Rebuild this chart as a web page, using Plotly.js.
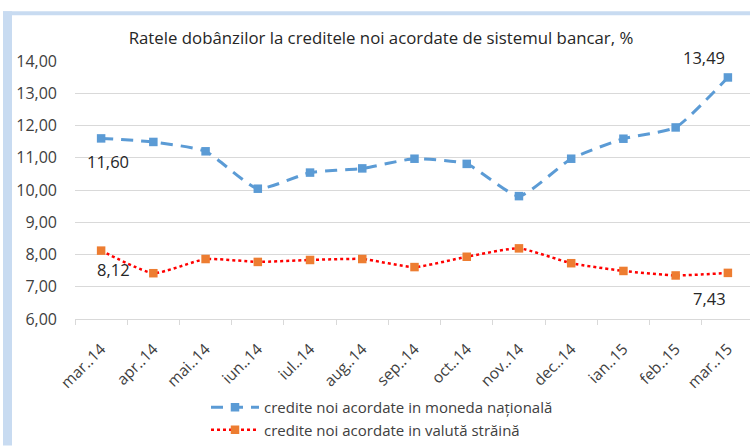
<!DOCTYPE html>
<html>
<head>
<meta charset="utf-8">
<script src="https://cdn.plot.ly/plotly-3.0.1.min.js"></script>
<style>
html,body{margin:0;padding:0;overflow:hidden;background:#fff;}
#chart{width:756px;height:447px;}
</style>
</head>
<body>
<div id="chart"></div>
<script>
var categories = ["mar..14","apr..14","mai..14","iun..14","iul..14","aug..14","sep..14","oct..14","nov..14","dec..14","ian..15","feb..15","mar..15"];
var nationalCurrency = [11.60, 11.49, 11.20, 10.04, 10.54, 10.67, 10.97, 10.81, 9.81, 10.97, 11.59, 11.94, 13.49];
var foreignCurrency = [8.12, 7.42, 7.86, 7.77, 7.83, 7.86, 7.61, 7.93, 8.19, 7.73, 7.49, 7.35, 7.43];
var seriesNames = ["credite noi acordate in moneda națională", "credite noi acordate in valută străină"];
var yTicks = [6,7,8,9,10,11,12,13,14];
var yTickText = ["6,00","7,00","8,00","9,00","10,00","11,00","12,00","13,00","14,00"];
var chartTitle = "Ratele dobânzilor la creditele noi acordate de sistemul bancar, %";

function fmt(v){ return v.toFixed(2).replace(".", ","); }

var FONT = "Open Sans, sans-serif";
var W = 756, H = 447, ML = 75, MR = 2, MT = 61, MB = 127;
var PW = W - ML - MR, PH = H - MT - MB;
function px(x){ return (x - ML) / PW; }
function py(y){ return (H - MB - y) / PH; }

var traces = [
  {
    x: categories, y: nationalCurrency, name: seriesNames[0], type: "scatter", mode: "lines+markers",
    line: {color: "#5b9bd5", width: 3, dash: "12px,8px", shape: "spline", smoothing: 0.5},
    marker: {symbol: "square", size: 8.5, color: "#5b9bd5"}
  },
  {
    x: categories, y: foreignCurrency, name: seriesNames[1], type: "scatter", mode: "lines+markers",
    line: {color: "#ff0000", width: 2.5, dash: "dot", shape: "spline", smoothing: 0.5},
    marker: {symbol: "square", size: 8.5, color: "#ed7d31"}
  }
];

var n = categories.length - 1;
var annotations = [
  {x: categories[0], y: nationalCurrency[0], text: fmt(nationalCurrency[0]), xshift: 7, yshift: -23},
  {x: categories[0], y: foreignCurrency[0], text: fmt(foreignCurrency[0]), xshift: 12, yshift: -19},
  {x: categories[n], y: nationalCurrency[n], text: fmt(nationalCurrency[n]), xshift: -24, yshift: 20},
  {x: categories[n], y: foreignCurrency[n], text: fmt(foreignCurrency[n]), xshift: -18, yshift: -26}
].map(function(a){
  a.xref = "x"; a.yref = "y"; a.showarrow = false;
  a.font = {family: FONT, size: 16.5, color: "#262626"};
  return a;
});

var layout = {
  width: W, height: H,
  margin: {l: ML, r: MR, t: MT, b: MB},
  paper_bgcolor: "#ffffff", plot_bgcolor: "#ffffff",
  font: {family: FONT, color: "#404040"},
  title: {
    text: chartTitle, font: {family: FONT, size: 16.8, color: "#262626"},
    xref: "container", x: 381 / W, xanchor: "center",
    yref: "container", y: 1 - 38 / H, yanchor: "middle"
  },
  xaxis: {
    type: "category", range: [-0.5, 12.5],
    tickangle: -45, tickfont: {family: FONT, size: 15.5, color: "#404040"},
    showgrid: false, showline: true, linecolor: "#d9d9d9", linewidth: 1,
    ticks: "outside", ticklen: 5, tickcolor: "#d9d9d9", tickson: "boundaries",
    ticklabelstandoff: 14, zeroline: false
  },
  yaxis: {
    range: [6, 14], tickvals: yTicks, ticktext: yTickText,
    tickfont: {family: FONT, size: 16, color: "#404040"},
    showgrid: true, gridcolor: "#d9d9d9", gridwidth: 1,
    showline: false, zeroline: false, ticks: "", ticklabelstandoff: 17
  },
  showlegend: true,
  legend: {
    x: px(206), xanchor: "left", y: py(391), yanchor: "top",
    orientation: "v", font: {family: FONT, size: 15, color: "#404040"},
    itemwidth: 48, tracegroupgap: 0, bgcolor: "rgba(0,0,0,0)"
  },
  annotations: annotations,
  shapes: [
    {type: "rect", xref: "paper", yref: "paper", x0: px(3), x1: px(12), y0: py(447), y1: py(11), fillcolor: "#c8dbf1", line: {width: 0}, layer: "below"},
    {type: "rect", xref: "paper", yref: "paper", x0: px(3), x1: px(760), y0: py(15), y1: py(11), fillcolor: "#c8dbf1", line: {width: 0}, layer: "below"}
  ]
};

Plotly.newPlot("chart", traces, layout, {displayModeBar: false, staticPlot: true});
</script>
</body>
</html>
